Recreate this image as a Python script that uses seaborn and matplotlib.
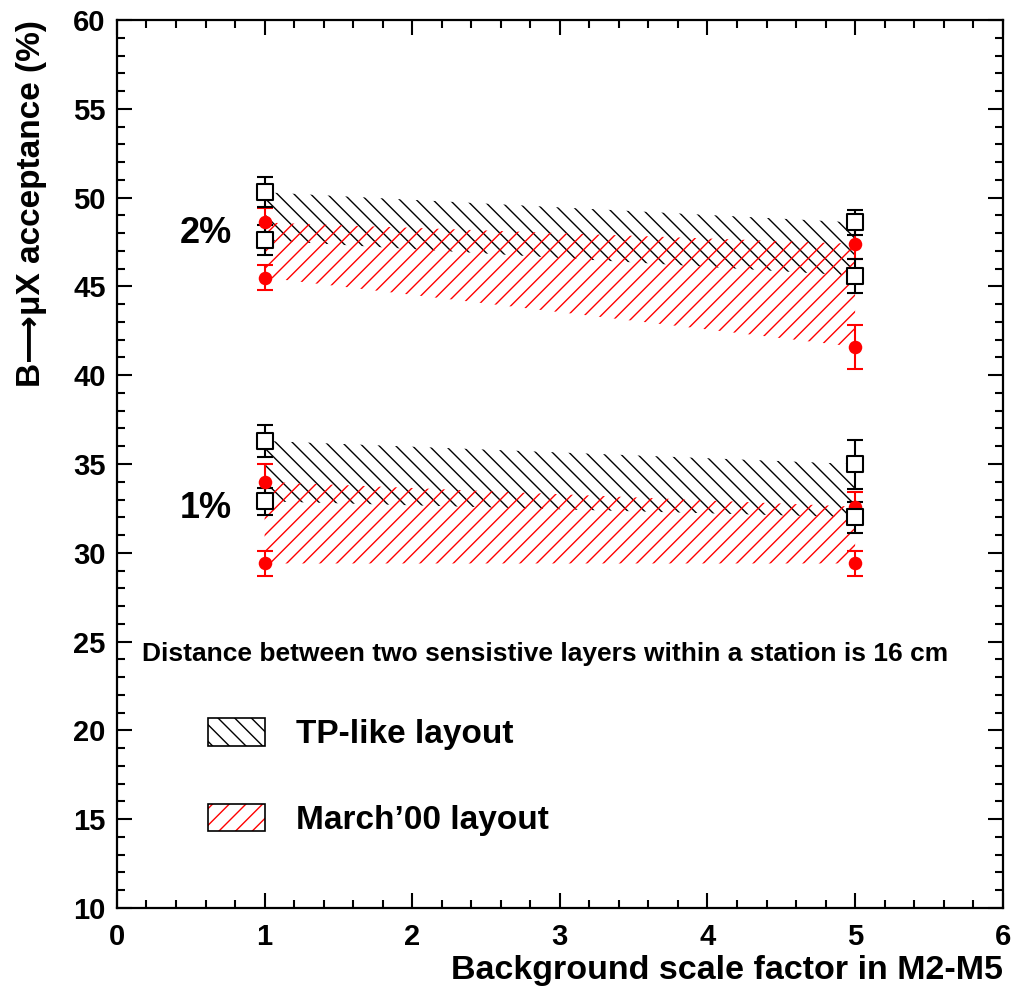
import numpy as np
import pandas as pd
import matplotlib
matplotlib.use("Agg")
import matplotlib.pyplot as plt
import seaborn as sns
from matplotlib.patches import Patch
from matplotlib.ticker import MultipleLocator

sns.set_theme(style="ticks")
plt.rcParams['font.family'] = ['Liberation Sans', 'DejaVu Sans']
plt.rcParams['font.weight'] = 'bold'
plt.rcParams['hatch.linewidth'] = 1.0
for k in ['text.color', 'axes.labelcolor', 'xtick.color', 'ytick.color', 'axes.edgecolor']:
    plt.rcParams[k] = 'black'

# background scale factor
scale = [1, 5]

# 2% efficiency loss: upper/lower edges of each band
tp2_hi = [50.3, 48.6]
tp2_hi_err = [0.85, 0.7]
tp2_lo = [47.6, 45.6]
tp2_lo_err = [0.85, 0.95]
mar2_hi = [48.6, 47.4]
mar2_hi_err = [0.8, 0.85]
mar2_lo = [45.5, 41.6]
mar2_lo_err = [0.7, 1.25]

# 1% efficiency loss
tp1_hi = [36.3, 35.0]
tp1_hi_err = [0.9, 1.38]
tp1_lo = [32.9, 32.0]
tp1_lo_err = [0.75, 0.87]
mar1_hi = [34.0, 32.6]
mar1_hi_err = [1.0, 0.8]
mar1_lo = [29.4, 29.4]
mar1_lo_err = [0.68, 0.7]

rows = []
for layout, series in [("TP-like", [(tp2_hi, tp2_hi_err), (tp2_lo, tp2_lo_err),
                                    (tp1_hi, tp1_hi_err), (tp1_lo, tp1_lo_err)]),
                       ("March'00", [(mar2_hi, mar2_hi_err), (mar2_lo, mar2_lo_err),
                                     (mar1_hi, mar1_hi_err), (mar1_lo, mar1_lo_err)])]:
    for vals, errs in series:
        for x, v, e in zip(scale, vals, errs):
            rows.append({"layout": layout, "x": x, "acc": v, "err": e})
df = pd.DataFrame(rows)

fig = plt.figure(figsize=(10.17, 9.86), dpi=100)
ax = fig.add_axes([0.115, 0.0791, 0.871, 0.9006])

# hatched bands
for lo, hi in [(tp2_lo, tp2_hi), (tp1_lo, tp1_hi)]:
    ax.fill_between(scale, lo, hi, facecolor='none', edgecolor='black',
                    hatch='\\\\', linewidth=0)
for lo, hi in [(mar2_lo, mar2_hi), (mar1_lo, mar1_hi)]:
    ax.fill_between(scale, lo, hi, facecolor='none', edgecolor='red',
                    hatch='//', linewidth=0)

colors = {"TP-like": "black", "March'00": "red"}
for layout, sub in df.groupby("layout"):
    ax.errorbar(sub["x"], sub["acc"], yerr=sub["err"], fmt='none',
                ecolor=colors[layout], elinewidth=1.5, capsize=6, capthick=1.5)

tp = df[df.layout == "TP-like"]
mar = df[df.layout == "March'00"]
sns.scatterplot(data=mar, x="x", y="acc", ax=ax, color='red', marker='o',
                s=95, edgecolor='red', linewidth=0, zorder=5, legend=False)
sns.scatterplot(data=tp, x="x", y="acc", ax=ax, marker='s', s=130,
                facecolor='white', edgecolor='black', linewidth=1.5,
                zorder=6, legend=False)

ax.set_xlim(0, 6)
ax.set_ylim(10, 60)
ax.xaxis.set_major_locator(MultipleLocator(1))
ax.xaxis.set_minor_locator(MultipleLocator(0.2))
ax.yaxis.set_major_locator(MultipleLocator(5))
ax.yaxis.set_minor_locator(MultipleLocator(1))
ax.tick_params(which='both', direction='in', top=True, right=True,
               width=1.5, labelsize=21)
ax.tick_params(axis='y', pad=8)
ax.tick_params(axis='x', pad=11)
ax.tick_params(which='major', length=11)
ax.tick_params(which='minor', length=6)
for sp in ax.spines.values():
    sp.set_linewidth(1.6)
for lab in ax.get_xticklabels() + ax.get_yticklabels():
    lab.set_fontweight('bold')

ax.set_xlabel("Background scale factor in M2-M5", fontsize=24.5,
              fontweight='bold', loc='right', labelpad=3)
ax.set_ylabel("B\u27f6\u03bcX acceptance (%)", fontsize=24,
              fontweight='bold', loc='top', labelpad=19)

ax.text(0.6, 48.0, "2%", fontsize=26, fontweight='bold', ha='center', va='center')
ax.text(0.6, 32.5, "1%", fontsize=26, fontweight='bold', ha='center', va='center')
ax.text(2.9, 24.3, "Distance between two sensistive layers within a station is 16 cm",
        fontsize=19, fontweight='bold', ha='center', va='center')

h_tp = (Patch(facecolor='none', edgecolor='black', hatch='\\\\', linewidth=0),
        Patch(facecolor='none', edgecolor='black', linewidth=1.2))
h_mar = (Patch(facecolor='none', edgecolor='red', hatch='//', linewidth=0),
         Patch(facecolor='none', edgecolor='black', linewidth=1.2))
leg = ax.legend([h_tp, h_mar], ["TP-like layout", "March\u201900 layout"],
                loc='upper left', bbox_to_anchor=(0.1027, 0.214),
                frameon=False, fontsize=24, borderpad=0, borderaxespad=0,
                handlelength=1.71, handleheight=0.9, handletextpad=0.93,
                labelspacing=1.6)
for t in leg.get_texts():
    t.set_fontweight('bold')

fig.savefig("out.png", dpi=100)
